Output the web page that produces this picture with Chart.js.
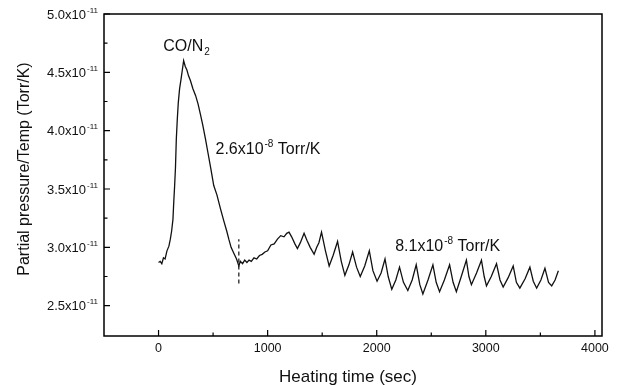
<!DOCTYPE html>
<html lang="en">
<head>
    <meta charset="UTF-8">
    <title>Partial pressure vs heating time</title>
    <style>
        html, body { margin: 0; padding: 0; background: #fff; }
        .chart-box { width: 632px; height: 385px; }
    </style>
</head>
<body>
<div class="chart-box">
    <canvas id="chart" width="632" height="385"></canvas>
</div>

<script src="https://cdn.jsdelivr.net/npm/chart.js"></script>
<script>
    // Heating time (sec) and partial pressure/temp, in units of 1e-11 Torr/K
    const heatTime = [
        0, 15, 30, 45, 60, 77, 95, 108, 120, 132, 140, 147, 155, 163, 172, 181, 193, 206, 218, 230,
        245, 260, 275, 292, 315, 340, 362, 384, 405, 430, 455, 480, 506, 535, 568, 600, 625, 644, 665, 690,
        715, 736, 750, 770, 790, 810, 830, 850, 875, 900, 925, 950, 975, 1000, 1030, 1060, 1090, 1120, 1150, 1175,
        1196, 1220, 1250, 1273, 1300, 1334, 1360, 1390, 1426, 1450, 1470, 1494, 1530, 1564, 1600, 1641, 1675, 1708, 1745, 1779,
        1815, 1849, 1890, 1932, 1965, 2003, 2040, 2076, 2105, 2138, 2175, 2209, 2245, 2285, 2325, 2362, 2395, 2423, 2470, 2515,
        2545, 2576, 2620, 2668, 2700, 2730, 2775, 2822, 2845, 2868, 2915, 2960, 2985, 3006, 3050, 3098, 3130, 3159, 3205, 3251,
        3280, 3312, 3360, 3404, 3435, 3466, 3505, 3542, 3575, 3604, 3635, 3665
    ];
    const pressure = [
        2.87, 2.88, 2.86, 2.91, 2.90, 2.97, 3.01, 3.07, 3.14, 3.24, 3.40, 3.52, 3.68, 3.93, 4.10, 4.24, 4.36, 4.44, 4.52, 4.60,
        4.55, 4.52, 4.47, 4.43, 4.36, 4.30, 4.23, 4.14, 4.05, 3.93, 3.80, 3.67, 3.53, 3.45, 3.33, 3.22, 3.14, 3.07, 3.00, 2.95,
        2.90, 2.84, 2.88, 2.86, 2.89, 2.87, 2.89, 2.88, 2.91, 2.90, 2.93, 2.94, 2.96, 2.97, 3.02, 3.03, 3.07, 3.10, 3.09, 3.12,
        3.13, 3.09, 3.03, 2.99, 3.04, 3.12, 3.06, 3.00, 2.94, 3.00, 3.04, 3.13, 2.97, 2.84, 2.93, 3.05, 2.88, 2.76, 2.85, 2.96,
        2.83, 2.75, 2.84, 2.97, 2.80, 2.71, 2.78, 2.90, 2.75, 2.64, 2.72, 2.83, 2.70, 2.63, 2.72, 2.85, 2.68, 2.60, 2.72, 2.85,
        2.70, 2.62, 2.72, 2.85, 2.70, 2.62, 2.75, 2.89, 2.75, 2.68, 2.78, 2.89, 2.75, 2.67, 2.75, 2.86, 2.72, 2.66, 2.74, 2.84,
        2.70, 2.65, 2.73, 2.83, 2.71, 2.65, 2.72, 2.82, 2.70, 2.67, 2.72, 2.80
    ];

    // Dashed marker where the heating rate changes
    const markerTime = [736, 736];
    const markerValue = [2.69, 3.07];

    // Axis ticks
    const xTicks = [0, 1000, 2000, 3000, 4000];
    const xTickLabels = ['0', '1000', '2000', '3000', '4000'];
    const xMinorTicks = [500, 1500, 2500, 3500];
    const yTicks = [2.5, 3.0, 3.5, 4.0, 4.5, 5.0];
    const yTickLabels = ['2.5', '3.0', '3.5', '4.0', '4.5', '5.0'];
    const yTickExponent = '-11';
    const yMinorTicks = [2.75, 3.25, 3.75, 4.25, 4.75];

    // Text annotations (left end of baseline, in data units)
    const notes = [
        { t: 43, v: 4.68, base: 'CO/N', sub: '2', sup: '' },
        { t: 522, v: 3.80, base: '2.6x10', sup: '-8', tail: ' Torr/K' },
        { t: 2169, v: 2.97, base: '8.1x10', sup: '-8', tail: ' Torr/K' }
    ];

    const FONT = '"Liberation Sans", Arial, sans-serif';

    // Draw base text with an optional raised (sup) or lowered (sub) part
    function drawRich(ctx, x, y, base, sup, sub, tail, size, align) {
        ctx.font = size + 'px ' + FONT;
        const wBase = ctx.measureText(base).width;
        ctx.font = Math.round(size * 0.62) + 'px ' + FONT;
        const wSmall = ctx.measureText(sup || sub || '').width;
        ctx.font = size + 'px ' + FONT;
        const wTail = tail ? ctx.measureText(tail).width : 0;
        const total = wBase + wSmall + wTail + (wSmall ? 1 : 0);
        let x0 = x;
        if (align === 'center') x0 = x - total / 2;
        if (align === 'right') x0 = x - total;
        ctx.textAlign = 'left';
        ctx.textBaseline = 'alphabetic';
        ctx.fillText(base, x0, y);
        ctx.font = Math.round(size * 0.62) + 'px ' + FONT;
        if (sup) ctx.fillText(sup, x0 + wBase + 1, y - size * 0.45);
        if (sub) ctx.fillText(sub, x0 + wBase + 1, y + size * 0.2);
        if (tail) {
            ctx.font = size + 'px ' + FONT;
            ctx.fillText(tail, x0 + wBase + wSmall + 1, y);
        }
    }

    const framePlugin = {
        id: 'frame',
        afterDraw(chart) {
            const ctx = chart.ctx;
            const area = chart.chartArea;
            const xs = chart.scales.x;
            const ys = chart.scales.y;
            ctx.save();
            ctx.strokeStyle = '#000';
            ctx.fillStyle = '#111';
            ctx.lineWidth = 1.5;
            ctx.strokeRect(area.left, area.top, area.right - area.left, area.bottom - area.top);

            // inward ticks
            ctx.lineWidth = 1.2;
            ctx.beginPath();
            xTicks.forEach(t => {
                const px = xs.getPixelForValue(t);
                ctx.moveTo(px, area.bottom); ctx.lineTo(px, area.bottom - 6);
            });
            xMinorTicks.forEach(t => {
                const px = xs.getPixelForValue(t);
                ctx.moveTo(px, area.bottom); ctx.lineTo(px, area.bottom - 3.5);
            });
            yTicks.forEach(v => {
                const py = ys.getPixelForValue(v);
                ctx.moveTo(area.left, py); ctx.lineTo(area.left + 6, py);
            });
            yMinorTicks.forEach(v => {
                const py = ys.getPixelForValue(v);
                ctx.moveTo(area.left, py); ctx.lineTo(area.left + 3.5, py);
            });
            ctx.stroke();

            // tick labels
            ctx.font = '12.5px ' + FONT;
            ctx.textAlign = 'center';
            ctx.textBaseline = 'middle';
            xTicks.forEach((t, i) => {
                ctx.fillText(xTickLabels[i], xs.getPixelForValue(t), area.bottom + 13);
            });
            yTicks.forEach((v, i) => {
                const py = ys.getPixelForValue(v);
                drawRich(ctx, area.left - 6, py + 4.5, yTickLabels[i] + 'x10', yTickExponent, '', '', 13, 'right');
            });

            // axis titles
            ctx.font = '17px ' + FONT;
            ctx.textAlign = 'center';
            ctx.textBaseline = 'middle';
            ctx.fillText('Heating time (sec)', 348, 377);
            ctx.save();
            ctx.translate(25, 169);
            ctx.rotate(-Math.PI / 2);
            ctx.font = '16px ' + FONT;
            ctx.fillText('Partial pressure/Temp (Torr/K)', 0, 0);
            ctx.restore();

            // annotations
            notes.forEach(n => {
                const px = xs.getPixelForValue(n.t);
                const py = ys.getPixelForValue(n.v);
                drawRich(ctx, px, py, n.base, n.sup, n.sub, n.tail, 16, 'left');
            });
            ctx.restore();
        }
    };

    new Chart(document.getElementById('chart'), {
        type: 'scatter',
        data: {
            datasets: [
                {
                    data: heatTime.map((t, i) => ({ x: t, y: pressure[i] })),
                    showLine: true,
                    borderColor: '#111',
                    borderWidth: 1.3,
                    pointRadius: 0,
                    tension: 0
                },
                {
                    data: markerTime.map((t, i) => ({ x: t, y: markerValue[i] })),
                    showLine: true,
                    borderColor: '#111',
                    borderWidth: 1.2,
                    borderDash: [4, 3],
                    pointRadius: 0
                }
            ]
        },
        options: {
            responsive: false,
            animation: false,
            layout: { padding: { left: 104, right: 30, top: 14, bottom: 49 } },
            plugins: {
                legend: { display: false },
                tooltip: { enabled: false }
            },
            scales: {
                x: { type: 'linear', min: -500, max: 4065, display: false },
                y: { type: 'linear', min: 2.24, max: 5.0, display: false }
            }
        },
        plugins: [framePlugin]
    });
</script>
</body>
</html>
